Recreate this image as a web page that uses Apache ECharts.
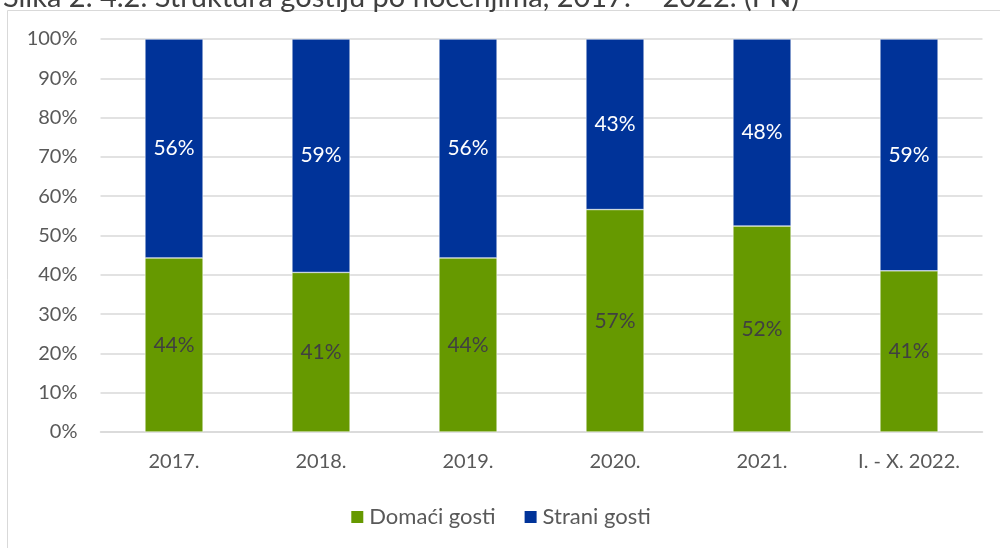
<!DOCTYPE html>
<html><head><meta charset="utf-8">
<script src="https://cdn.jsdelivr.net/npm/echarts@6/dist/echarts.min.js"></script>
<style>html,body{margin:0;padding:0;background:#fff}#c{width:1000px;height:548px}</style>
</head><body><div id="c"></div>
<script>
const categories = ['2017.', '2018.', '2019.', '2020.', '2021.', 'I. - X. 2022.'];
const domaci = [44.3, 40.6, 44.3, 56.6, 52.4, 41.0];
const strani = [55.7, 59.4, 55.7, 43.4, 47.6, 59.0];
const yTicks = [0, 10, 20, 30, 40, 50, 60, 70, 80, 90, 100];
const titleText = 'Slika 2. 4.2. Struktura gostiju po noćenjima, 2017. – 2022. (PN)';

const font = 'Lato, "Open Sans", sans-serif';
const chart = echarts.init(document.getElementById('c'));
chart.setOption({
  animation: false,
  textStyle: { fontFamily: font },
  title: { text: titleText, left: -2, top: -22, textStyle: { fontFamily: font, fontSize: 29, fontWeight: 'normal', color: '#404040' } },
  graphic: [{ type: 'rect', shape: { x: 7.5, y: 10.5, width: 1000, height: 560 }, style: { fill: 'none', stroke: '#d9d9d9', lineWidth: 1 }, silent: true, z: -1 }],
  grid: { left: 100.5, right: 17.5, top: 39, bottom: 116 },
  legend: {
    bottom: 15, left: 'center', itemWidth: 14, itemHeight: 14, itemGap: 27,
    icon: 'rect',
    textStyle: { fontFamily: font, fontSize: 22, color: '#595959' },
    data: ['Domaći gosti', 'Strani gosti']
  },
  xAxis: {
    type: 'category', data: categories,
    axisLine: { lineStyle: { color: '#d9d9d9', width: 1.5 } },
    axisTick: { show: false },
    axisLabel: { fontFamily: font, fontSize: 20, color: '#595959', margin: 20 }
  },
  yAxis: {
    type: 'value', min: yTicks[0], max: yTicks[yTicks.length - 1], interval: 10,
    axisLine: { show: false }, axisTick: { show: false },
    splitLine: { lineStyle: { color: '#d9d9d9', width: 1.5 } },
    axisLabel: { fontFamily: font, fontSize: 20, color: '#595959', margin: 23, formatter: v => v + '%' }
  },
  series: [
    {
      name: 'Domaći gosti', type: 'bar', stack: 's', data: domaci, barWidth: '39.5%',
      itemStyle: { color: '#669900', borderColor: '#ffffff', borderWidth: 0.5 },
      label: { show: true, position: 'inside', fontFamily: font, fontSize: 21, color: '#404040', formatter: p => Math.round(p.value) + '%' }
    },
    {
      name: 'Strani gosti', type: 'bar', stack: 's', data: strani, barWidth: '39.5%',
      itemStyle: { color: '#003399', borderColor: '#ffffff', borderWidth: 0.5 },
      label: { show: true, position: 'inside', fontFamily: font, fontSize: 21, color: '#ffffff', formatter: p => Math.round(p.value) + '%' }
    }
  ]
});
</script></body></html>
